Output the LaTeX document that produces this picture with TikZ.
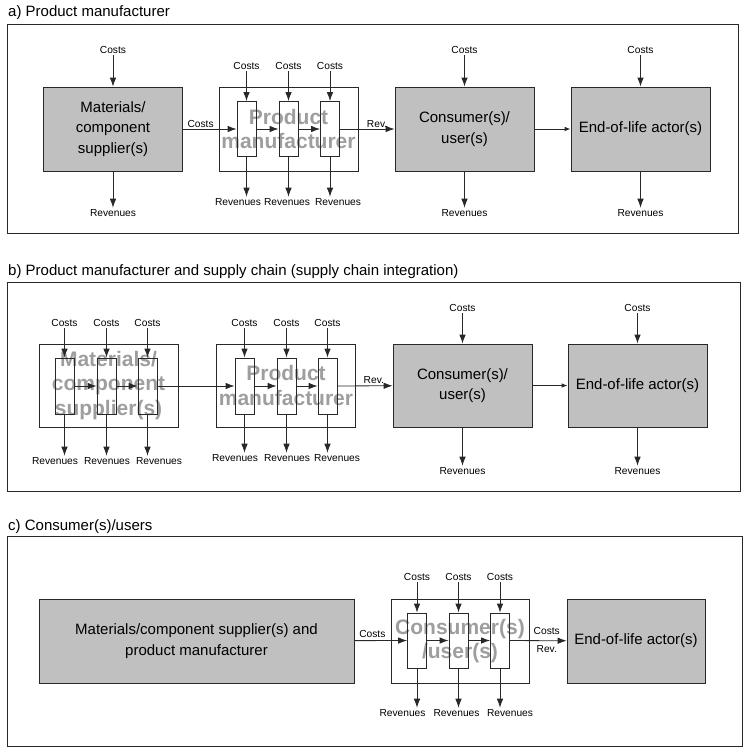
\documentclass[tikz,border=0pt]{standalone}
\usepackage{fontspec}
\setmainfont{Liberation Sans}
\usetikzlibrary{arrows.meta,positioning}
\definecolor{boxgray}{RGB}{192,192,192}
\definecolor{ghostgray}{RGB}{158,158,158}
\definecolor{linegray}{RGB}{40,40,40}

\begin{document}
\begin{tikzpicture}[x=1pt,y=-1pt,
  box/.style={draw=linegray, fill=boxgray, line width=0.8pt, minimum width=139pt, minimum height=84pt, align=center, font=\fontsize{15}{20.5}\selectfont, inner sep=0pt},
  frame/.style={draw=linegray, line width=0.8pt, minimum width=139pt, minimum height=84pt, inner sep=0pt},
  ghost/.style={text=ghostgray, align=center, font=\fontsize{21}{24.5}\selectfont\bfseries},
  cell/.style={draw=linegray, line width=0.8pt, minimum width=19pt, minimum height=55pt, inner sep=0pt},
  lbl/.style={font=\fontsize{10.2}{12}\selectfont, inner sep=1.5pt},
  title/.style={anchor=west, font=\fontsize{15}{18}\selectfont, inner sep=0pt},
  flow/.style={-{Latex[length=9pt,width=6.5pt]}, line width=0.8pt, draw=linegray},
  thin/.style={-{Latex[length=6pt,width=4.5pt]}, line width=0.8pt, draw=linegray}]
\useasboundingbox (0,0) rectangle (748,747);

% a) product manufacturer
\node[title] (ta) at (8,13) {a) Product manufacturer};
\draw[linegray, line width=0.8pt] (7,24) rectangle (738,233);
\node[box] (mata) at (113,129) {Materials/\\component\\supplier(s)};
\node[frame, ghost] (pma) at (288.5,129) {Product\\manufacturer};
\node[cell] (a1) at (246.5,129) {};
\node[cell] (a2) at (288.5,129) {};
\node[cell] (a3) at (330,129) {};
\node[box] (consa) at (464.5,129) {Consumer(s)/\\user(s)};
\node[box] (eola) at (640.5,129) {End-of-life actor(s)};
\node[lbl] (ca0) at (113,50) {Costs};
\node[lbl] (ca1) at (246.5,66) {Costs};
\node[lbl] (ca2) at (288.5,66) {Costs};
\node[lbl] (ca3) at (330,66) {Costs};
\node[lbl] (ca4) at (464.5,50) {Costs};
\node[lbl] (ca5) at (640.5,50) {Costs};
\node[lbl] (ra0) at (113,213) {Revenues};
\node[lbl] (ra1) at (238,202) {Revenues};
\node[lbl] (ra2) at (287,202) {Revenues};
\node[lbl] (ra3) at (338,202) {Revenues};
\node[lbl] (ra4) at (464.5,213) {Revenues};
\node[lbl] (ra5) at (640.5,213) {Revenues};
\draw[flow] (ca0) -- (mata);
\draw[flow] (ca1) -- (a1);
\draw[flow] (ca2) -- (a2);
\draw[flow] (ca3) -- (a3);
\draw[flow] (ca4) -- (consa);
\draw[flow] (ca5) -- (eola);
\draw[flow] (mata) -- (ra0);
\draw[flow] (a1) -- (a1 |- ra1.north);
\draw[flow] (a2) -- (a2 |- ra2.north);
\draw[flow] (a3) -- (a3 |- ra3.north);
\draw[flow] (consa) -- (ra4);
\draw[flow] (eola) -- (ra5);
\draw[flow] (mata) -- node[lbl, above, pos=.33] {Costs} (a1);
\draw[flow] (a1) -- (a2);
\draw[flow] (a2) -- (a3);
\draw[flow] (a3) -- node[lbl, above, pos=.68] {Rev.} (consa);
\draw[thin] (consa) -- (eola);

% b) product manufacturer and supply chain
\node[title] (tb) at (8,272) {b) Product manufacturer and supply chain (supply chain integration)};
\draw[linegray, line width=0.8pt] (7,282) rectangle (740,491);
\node[frame, ghost, minimum height=83pt] (matb) at (108.5,385.5) {Materials/\\component\\supplier(s)};
\node[cell, minimum height=56pt] (b1) at (64.5,386) {};
\node[cell, minimum height=56pt] (b2) at (106.5,386) {};
\node[cell, minimum height=56pt] (b3) at (147.5,386) {};
\node[frame, ghost, minimum height=83pt] (pmb) at (286,385.5) {Product\\manufacturer};
\node[cell, minimum height=56pt] (b4) at (244.5,386) {};
\node[cell, minimum height=56pt] (b5) at (286.5,386) {};
\node[cell, minimum height=56pt] (b6) at (327.5,386) {};
\node[box, minimum height=83pt] (consb) at (462.5,385.5) {Consumer(s)/\\user(s)};
\node[box, minimum height=83pt] (eolb) at (637.5,385.5) {End-of-life actor(s)};
\node[lbl] (cb1) at (64.5,323) {Costs};
\node[lbl] (cb2) at (106.5,323) {Costs};
\node[lbl] (cb3) at (147.5,323) {Costs};
\node[lbl] (cb4) at (244.5,323) {Costs};
\node[lbl] (cb5) at (286.5,323) {Costs};
\node[lbl] (cb6) at (327.5,323) {Costs};
\node[lbl] (cb7) at (462.5,308) {Costs};
\node[lbl] (cb8) at (637.5,308) {Costs};
\node[lbl] (rb1) at (55,461) {Revenues};
\node[lbl] (rb2) at (107,461) {Revenues};
\node[lbl] (rb3) at (159,461) {Revenues};
\node[lbl] (rb4) at (235,458) {Revenues};
\node[lbl] (rb5) at (287,458) {Revenues};
\node[lbl] (rb6) at (337,458) {Revenues};
\node[lbl] (rb7) at (462.5,471) {Revenues};
\node[lbl] (rb8) at (637.5,471) {Revenues};
\draw[flow] (cb1) -- (b1);
\draw[flow] (cb2) -- (b2);
\draw[flow] (cb3) -- (b3);
\draw[flow] (cb4) -- (b4);
\draw[flow] (cb5) -- (b5);
\draw[flow] (cb6) -- (b6);
\draw[flow] (cb7) -- (consb);
\draw[flow] (cb8) -- (eolb);
\draw[flow] (b1) -- (b1 |- rb1.north);
\draw[flow] (b2) -- (b2 |- rb2.north);
\draw[flow] (b3) -- (b3 |- rb3.north);
\draw[flow] (b4) -- (b4 |- rb4.north);
\draw[flow] (b5) -- (b5 |- rb5.north);
\draw[flow] (b6) -- (b6 |- rb6.north);
\draw[flow] (consb) -- (rb7);
\draw[flow] (eolb) -- (rb8);
\draw[flow] (b1) -- (b2);
\draw[flow] (b2) -- (b3);
\draw[flow] (b3) -- (b4);
\draw[flow] (b4) -- (b5);
\draw[flow] (b5) -- (b6);
\draw[flow] (b6) -- node[lbl, above, pos=.66] {Rev.} (consb);
\draw[thin] (consb) -- (eolb);

% c) consumer(s)/users
\node[title] (tc) at (8,527) {c) Consumer(s)/users};
\draw[linegray, line width=0.8pt] (7,536) rectangle (742,746);
\node[box, minimum width=315pt] (bigc) at (196.5,641) {Materials/component supplier(s) and\\product manufacturer};
\node[frame, ghost, minimum width=138pt] (consc) at (460,641) {Consumer(s)\\/user(s)};
\node[cell] (c1) at (417,640.5) {};
\node[cell] (c2) at (458.5,640.5) {};
\node[cell] (c3) at (500,640.5) {};
\node[box, minimum width=138pt] (eolc) at (636,641) {End-of-life actor(s)};
\node[lbl] (cc1) at (417,577) {Costs};
\node[lbl] (cc2) at (458.5,577) {Costs};
\node[lbl] (cc3) at (500,577) {Costs};
\node[lbl] (rc1) at (402.5,713) {Revenues};
\node[lbl] (rc2) at (456.5,713) {Revenues};
\node[lbl] (rc3) at (510,713) {Revenues};
\draw[flow] (cc1) -- (c1);
\draw[flow] (cc2) -- (c2);
\draw[flow] (cc3) -- (c3);
\draw[flow] (c1) -- (c1 |- rc1.north);
\draw[flow] (c2) -- (c2 |- rc2.north);
\draw[flow] (c3) -- (c3 |- rc3.north);
\draw[flow] (bigc) -- node[lbl, above=1pt, pos=.34] {Costs} (c1);
\draw[flow] (c1) -- (c2);
\draw[flow] (c2) -- (c3);
\draw[flow] (c3) -- node[lbl, above=4pt, pos=.65] {Costs} node[lbl, below=3pt, pos=.65] {Rev.} (eolc);
\end{tikzpicture}
\end{document}
